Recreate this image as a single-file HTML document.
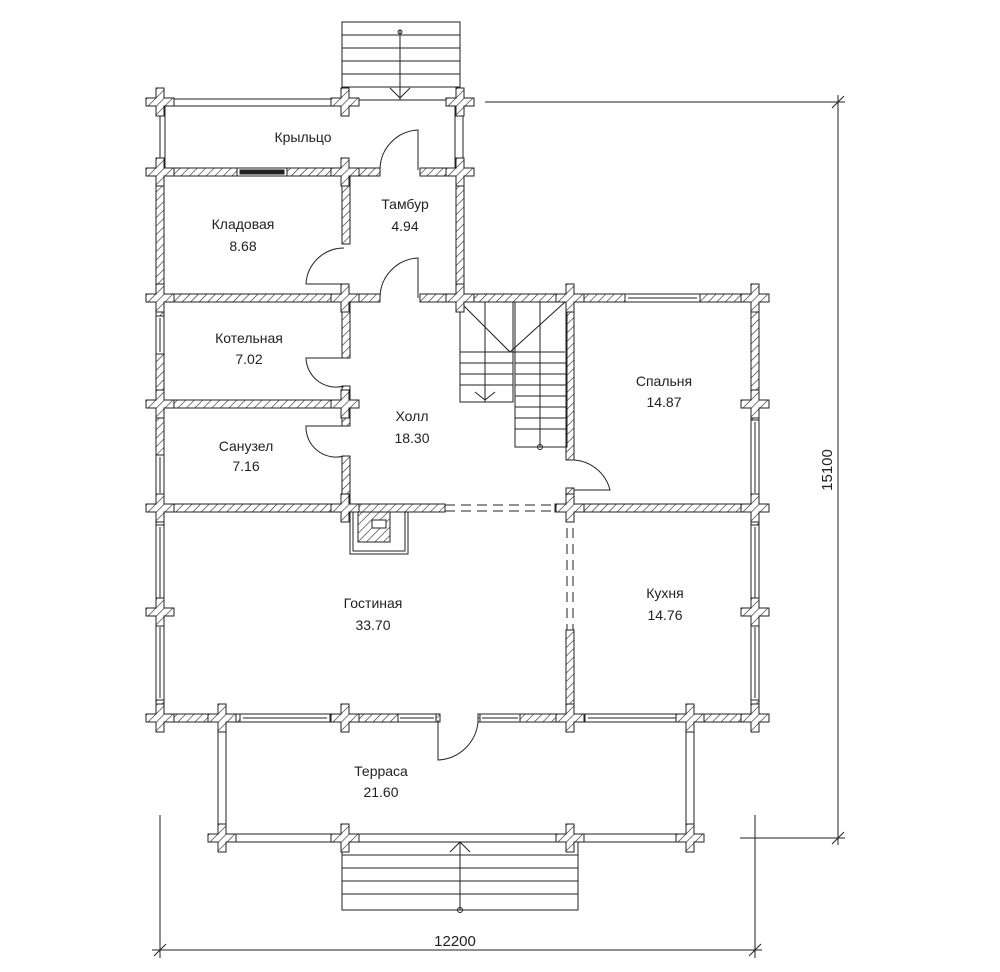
<!DOCTYPE html>
<html><head><meta charset="utf-8"><style>
html,body{margin:0;padding:0;background:#fff}
svg{display:block}
text{font-family:"Liberation Sans",sans-serif;font-size:14px;fill:#222;text-anchor:middle}
</style></head><body>
<svg width="1000" height="972" viewBox="0 0 1000 972" xmlns="http://www.w3.org/2000/svg">
<defs>
<pattern id="h" patternUnits="userSpaceOnUse" width="6" height="6" patternTransform="rotate(45)">
<rect width="6" height="6" fill="#fff"/><line x1="0" y1="0" x2="0" y2="6" stroke="#222" stroke-width="1.2"/>
</pattern>
<g id="x"><path d="M-4,-14 H4 V-4 H14 V4 H4 V14 H-4 V4 H-14 V-4 H-4 Z" fill="url(#h)" stroke="#222" stroke-width="1"/></g>
</defs>
<g stroke="#222" stroke-width="1" fill="none">
<rect x="342" y="22" width="118" height="78" fill="#fff"/>
<line x1="342" y1="35" x2="460" y2="35"/><line x1="342" y1="48" x2="460" y2="48"/><line x1="342" y1="61" x2="460" y2="61"/><line x1="342" y1="74" x2="460" y2="74"/><line x1="342" y1="87" x2="460" y2="87"/>
<line x1="400" y1="30" x2="400" y2="100"/><circle cx="400" cy="32" r="2"/>
<polyline points="390,88 400,98 410,88"/>
<rect x="165" y="99" width="175" height="7" fill="#fff"/>
<line x1="350" y1="100" x2="455" y2="100"/>
<line x1="160" y1="106" x2="160" y2="168"/>
<line x1="165" y1="106" x2="165" y2="168"/>
<line x1="455" y1="106" x2="455" y2="168"/><line x1="463" y1="106" x2="463" y2="168"/>
</g>
<g stroke="#222" stroke-width="1" fill="url(#h)">
<rect x="160" y="168" width="220" height="8"/>
<rect x="420" y="168" width="44" height="8"/>
<rect x="160" y="294" width="220" height="8"/>
<rect x="420" y="294" width="345" height="8"/>
<rect x="160" y="400" width="195" height="8"/>
<rect x="160" y="504" width="285" height="8"/>
<rect x="555" y="504" width="210" height="8"/>
<rect x="160" y="714" width="280" height="8"/>
<rect x="478" y="714" width="287" height="8"/>
<rect x="156" y="176" width="8" height="118"/>
<rect x="156" y="302" width="8" height="412"/>
<rect x="456" y="176" width="8" height="118"/>
<rect x="751" y="302" width="8" height="412"/>
<rect x="342" y="176" width="8" height="68"/>
<rect x="342" y="302" width="8" height="56"/>
<rect x="342" y="386" width="8" height="14"/>
<rect x="342" y="408" width="8" height="18"/>
<rect x="342" y="456" width="8" height="48"/>
<rect x="566" y="302" width="8" height="158"/>
<rect x="566" y="488" width="8" height="16"/>
<rect x="566" y="630" width="8" height="84"/>
<rect x="358" y="512" width="32" height="30"/>
</g>
<g stroke="#222" stroke-width="1" fill="none">
<rect x="350" y="512" width="58" height="42"/><rect x="353" y="512" width="52" height="39"/>
<rect x="372" y="520" width="14" height="8" fill="#fff"/>
<g stroke-dasharray="10,6"><line x1="445" y1="505" x2="555" y2="505"/><line x1="445" y1="511" x2="555" y2="511"/>
<line x1="567" y1="512" x2="567" y2="630"/><line x1="573" y1="512" x2="573" y2="630"/></g>
<g fill="#fff">
<rect x="237" y="168" width="50" height="8"/><rect x="240" y="170" width="44" height="4" fill="#222"/>
<rect x="625" y="294" width="75" height="8"/><line x1="628" y1="298" x2="697" y2="298"/>
<rect x="156" y="316" width="8" height="38"/><line x1="160" y1="318" x2="160" y2="352"/>
<rect x="156" y="455" width="8" height="40"/><line x1="160" y1="457" x2="160" y2="493"/>
<rect x="156" y="525" width="8" height="75"/><line x1="160" y1="527" x2="160" y2="598"/>
<rect x="156" y="625" width="8" height="75"/><line x1="160" y1="627" x2="160" y2="698"/>
<rect x="751" y="420" width="8" height="75"/><line x1="755" y1="422" x2="755" y2="493"/>
<rect x="751" y="525" width="8" height="75"/><line x1="755" y1="527" x2="755" y2="598"/>
<rect x="751" y="625" width="8" height="75"/><line x1="755" y1="627" x2="755" y2="698"/>
<rect x="240" y="714" width="90" height="8"/><line x1="243" y1="718" x2="327" y2="718"/>
<rect x="398" y="714" width="38" height="8"/><line x1="400" y1="718" x2="434" y2="718"/>
<rect x="480" y="714" width="40" height="8"/><line x1="482" y1="718" x2="518" y2="718"/>
<rect x="585" y="714" width="95" height="8"/><line x1="588" y1="718" x2="677" y2="718"/>
</g>
<path d="M418,170 V130 A40,40 0 0 0 380,170"/>
<path d="M418,298 V258 A40,40 0 0 0 380,298"/>
<path d="M344,248 A38,38 0 0 0 306,284 H344"/>
<path d="M344,358 H306 A30,30 0 0 0 344,386"/>
<path d="M344,426 H306 A30,30 0 0 0 344,456"/>
<path d="M574,460 A40,40 0 0 1 610,490 H574"/>
<path d="M438,720 V760 A42,42 0 0 0 478,722"/>
<rect x="460" y="302" width="53" height="100"/>
<rect x="515" y="302" width="52" height="145"/>
<line x1="485" y1="302" x2="485" y2="402"/><line x1="540" y1="302" x2="540" y2="447"/>
<polyline points="460,302 510,352 565,302"/>
<line x1="460" y1="352" x2="565" y2="352"/>
<line x1="460" y1="363" x2="513" y2="363"/><line x1="460" y1="374" x2="513" y2="374"/><line x1="460" y1="385" x2="513" y2="385"/>
<line x1="515" y1="363" x2="567" y2="363"/><line x1="515" y1="374" x2="567" y2="374"/><line x1="515" y1="385" x2="567" y2="385"/><line x1="515" y1="396" x2="567" y2="396"/><line x1="515" y1="407" x2="567" y2="407"/><line x1="515" y1="418" x2="567" y2="418"/><line x1="515" y1="429" x2="567" y2="429"/>
<polyline points="475,392 485,400 495,392"/><circle cx="540" cy="447" r="2.5"/>
<rect x="218" y="722" width="8" height="116"/><rect x="686" y="722" width="8" height="116"/>
<rect x="226" y="834" width="460" height="8" fill="#fff"/>
<rect x="342" y="842" width="236" height="68"/>
<line x1="342" y1="855" x2="578" y2="855"/><line x1="342" y1="868" x2="578" y2="868"/><line x1="342" y1="881" x2="578" y2="881"/><line x1="342" y1="894" x2="578" y2="894"/>
<line x1="460" y1="842" x2="460" y2="910"/><polyline points="450,852 460,842 470,852"/><circle cx="460" cy="910" r="2.5"/>
<line x1="485" y1="102" x2="845" y2="102"/><line x1="740" y1="838" x2="845" y2="838"/>
<line x1="838" y1="95" x2="838" y2="845"/>
<line x1="832" y1="108" x2="844" y2="96"/><line x1="832" y1="844" x2="844" y2="832"/>
<line x1="160" y1="815" x2="160" y2="958"/><line x1="755" y1="815" x2="755" y2="958"/>
<line x1="152" y1="950" x2="762" y2="950"/>
<line x1="154" y1="956" x2="166" y2="944"/><line x1="749" y1="956" x2="761" y2="944"/>
</g>
<use href="#x" x="160" y="102"/><use href="#x" x="345" y="102"/><use href="#x" x="460" y="102"/>
<use href="#x" x="160" y="172"/><use href="#x" x="345" y="172"/><use href="#x" x="460" y="172"/>
<use href="#x" x="160" y="298"/><use href="#x" x="345" y="298"/><use href="#x" x="460" y="298"/><use href="#x" x="570" y="298"/><use href="#x" x="755" y="298"/>
<use href="#x" x="160" y="404"/><use href="#x" x="345" y="404"/><use href="#x" x="755" y="404"/>
<use href="#x" x="160" y="508"/><use href="#x" x="345" y="508"/><use href="#x" x="570" y="508"/><use href="#x" x="755" y="508"/>
<use href="#x" x="160" y="612"/><use href="#x" x="755" y="612"/>
<use href="#x" x="160" y="718"/><use href="#x" x="222" y="718"/><use href="#x" x="345" y="718"/><use href="#x" x="570" y="718"/><use href="#x" x="690" y="718"/><use href="#x" x="755" y="718"/>
<use href="#x" x="222" y="838"/><use href="#x" x="345" y="838"/><use href="#x" x="570" y="838"/><use href="#x" x="690" y="838"/>
<text x="303" y="142">Крыльцо</text>
<text x="405" y="209">Тамбур</text><text x="405" y="231">4.94</text>
<text x="243" y="229">Кладовая</text><text x="243" y="251">8.68</text>
<text x="249" y="343">Котельная</text><text x="249" y="364">7.02</text>
<text x="412" y="421">Холл</text><text x="412" y="443">18.30</text>
<text x="246" y="451">Санузел</text><text x="246" y="471">7.16</text>
<text x="664" y="386">Спальня</text><text x="664" y="407">14.87</text>
<text x="665" y="598">Кухня</text><text x="665" y="620">14.76</text>
<text x="373" y="608">Гостиная</text><text x="373" y="630">33.70</text>
<text x="381" y="776">Терраса</text><text x="381" y="797">21.60</text>
<text x="455" y="946" style="font-size:15px">12200</text>
<text x="0" y="0" style="font-size:15px" transform="translate(832,470) rotate(-90)">15100</text>
</svg>
</body></html>
